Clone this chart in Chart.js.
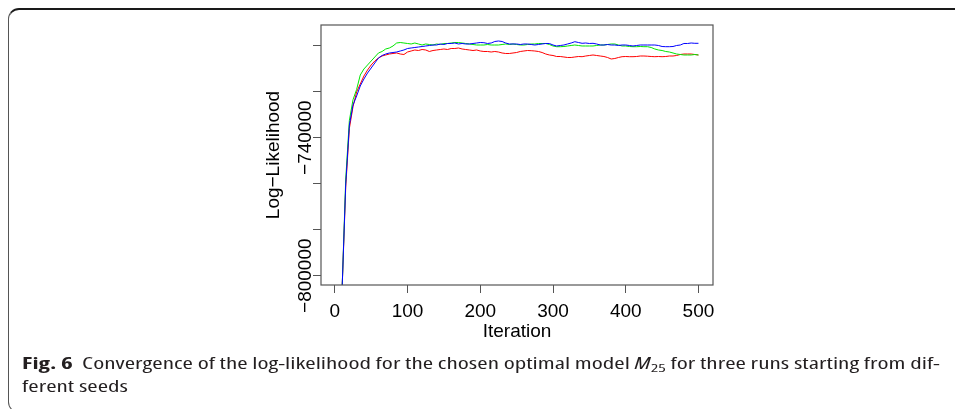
<!DOCTYPE html>
<html><head><meta charset="utf-8">
<script src="https://cdn.jsdelivr.net/npm/chart.js@4.4.1/dist/chart.umd.min.js"></script>
<style>
html,body{margin:0;padding:0;background:#fff;width:955px;height:409px;overflow:hidden;}
#frame{position:absolute;left:8px;top:8px;width:1000px;height:405px;border-top:2px solid #1a1a1a;border-left:1px solid #555;border-bottom:1px solid #555;border-radius:11px 0 0 11px;box-sizing:border-box;}
#c{position:absolute;left:0;top:0;}
#cap{position:absolute;left:22px;top:352px;font-family:"Open Sans","Lato",sans-serif;font-stretch:75%;font-size:15.5px;line-height:23px;color:#231f20;white-space:nowrap;transform-origin:0 0;}
#cap b{font-weight:700;}
#cap sub{font-size:11px;line-height:0;vertical-align:-3px;}
</style></head><body>
<div id="frame"></div>
<canvas id="c" width="955" height="409"></canvas>
<div id="cap"><span id="l1"><b>Fig. 6</b>&nbsp; Convergence of the log-likelihood for the chosen optimal model <i>M</i><sub>25</sub> for three runs starting from dif-</span><br><span>ferent seeds</span></div>
<script>
// ---- data ----
const iterations = [10,15,20,25,30,35,40,45,50,55,60,65,70,75,80,85,90,95,100,
105,110,115,120,125,130,135,140,145,150,155,160,165,170,175,180,185,190,195,200,
205,210,215,220,225,230,235,240,245,250,255,260,265,270,275,280,285,290,295,300,
305,310,315,320,325,330,335,340,345,350,355,360,365,370,375,380,385,390,395,400,
405,410,415,420,425,430,435,440,445,450,455,460,465,470,475,480,485,490,495,500];

const runBlue = [-806000,-760100,-734500,-725800,-721870,-717520,-714480,-711870,-709700,-707520,
-705350,-704260,-703610,-703170,-702960,-702740,-702300,-701870,-701220,
-701000,-700780,-700570,-700350,-700130,-699910,-699700,-699700,-699260,-699480,
-699040,-699040,-698830,-699260,-699040,-699260,-699260,-699040,-698830,-698610,
-698700,-699040,-698830,-698170,-697960,-698170,-698830,-699260,-699260,-699260,
-699480,-699260,-699260,-699480,-699700,-699480,-699260,-699040,-699040,-699700,
-700130,-699910,-699700,-699260,-698830,-698260,-698610,-698960,-698830,-699040,
-698960,-699260,-699700,-699700,-699480,-699700,-699700,-699910,-699700,-699700,
-699910,-700130,-699910,-699700,-699700,-699700,-699700,-699700,-699910,-700350,
-700430,-700430,-700350,-699910,-699700,-699040,-699040,-698830,-698960,-698960];

const runGreen = [-806000,-758000,-732500,-723500,-719000,-712740,-710130,-708390,-706650,-704910,
-703170,-702520,-701430,-701000,-700130,-698830,-698610,-698830,-699040,
-699260,-698830,-699260,-699700,-699260,-699480,-699700,-699260,-699480,-699040,
-699040,-698830,-698610,-698610,-698830,-699040,-699260,-699480,-699700,-699700,
-699700,-699480,-699700,-699700,-699700,-699480,-699260,-699480,-699260,-699480,
-699700,-699700,-699480,-699260,-699260,-699040,-699040,-699040,-699480,-700130,
-700430,-700430,-700350,-700130,-699910,-699700,-699910,-700130,-700130,-700130,
-700130,-699910,-699700,-699700,-699480,-699260,-699260,-699700,-700130,-700130,
-700350,-700430,-700430,-700350,-700430,-700430,-700780,-701430,-701870,-702090,
-702520,-702740,-703170,-703610,-703830,-704040,-704040,-704040,-703830,-704040];

const runRed = [-806000,-761500,-736000,-726500,-720130,-716650,-713170,-710570,-708390,-706650,
-705350,-704480,-704040,-703610,-703390,-703170,-703610,-703830,-702740,
-702300,-701870,-702090,-701650,-701870,-702520,-702090,-701870,-701650,-701430,
-701650,-701220,-701220,-701000,-701430,-701650,-701870,-702090,-701870,-702300,
-702520,-702520,-702740,-702520,-702740,-703170,-703390,-703390,-703170,-702960,
-702520,-702300,-702090,-702170,-702300,-702520,-702960,-703610,-704040,-704260,
-704700,-704700,-704910,-705130,-705130,-704910,-704700,-704780,-704480,-704260,
-704040,-704260,-704480,-704700,-705130,-705780,-705570,-705130,-704780,-704700,
-704780,-704780,-704700,-704480,-704480,-704570,-704700,-704780,-704700,-704780,
-704700,-704480,-704480,-704260,-703830,-703610,-703610,-703610,-703830,-704040];

const xTicks = [0,100,200,300,400,500];
const yTicks = [-800000,-780000,-760000,-740000,-720000,-700000];
const yTickLabels = ['\u2212800000','','','\u2212740000','',''];

const toPoints = arr => arr.map((v,i)=>({x:iterations[i], y:v}));
const FONT = '"Liberation Sans", Arial, Helvetica, sans-serif';

const rFrame = {
  id:'rFrame',
  afterDatasetsDraw(chart){
    const {ctx, chartArea:a, scales:{y}} = chart;
    ctx.save();
    ctx.strokeStyle='#555'; ctx.lineWidth=1.2;
    ctx.strokeRect(a.left, a.top, a.right-a.left, a.bottom-a.top);
    ctx.fillStyle='#000';
    ctx.font='19px '+FONT;
    ctx.textAlign='center'; ctx.textBaseline='alphabetic';
    yTicks.forEach((v,i)=>{
      const t = yTickLabels[i]; if(!t) return;
      const py = y.getPixelForValue(v);
      ctx.save(); ctx.translate(y.right-10.5, py); ctx.rotate(-Math.PI/2);
      ctx.fillText(t,0,0); ctx.restore();
    });
    ctx.restore();
  }
};

new Chart(document.getElementById('c'), {
  type:'line',
  data:{datasets:[
    {label:'run 3', data:toPoints(runBlue), borderColor:'#0000ff'},
    {label:'run 2', data:toPoints(runGreen), borderColor:'#00e600'},
    {label:'run 1', data:toPoints(runRed), borderColor:'#ff0000'}
  ]},
  options:{
    responsive:false, animation:false, devicePixelRatio:1,
    layout:{padding:{left:255,right:242,top:25,bottom:64}},
    plugins:{legend:{display:false}, tooltip:{enabled:false}},
    elements:{point:{radius:0}, line:{borderWidth:1, tension:0, fill:false}},
    scales:{
      x:{type:'linear', min:-19, max:520,
        afterBuildTicks:s=>{ s.ticks = xTicks.map(v=>({value:v})); },
        afterFit:s=>{ s.height = 60; },
        grid:{drawOnChartArea:false, drawTicks:true, tickLength:8, color:'#555', lineWidth:1},
        border:{display:false},
        ticks:{autoSkip:false, maxRotation:0, minRotation:0, padding:7, color:'#000', font:{family:FONT, size:19}},
        title:{display:true, text:'Iteration', color:'#000', font:{family:FONT, size:19}, padding:{top:0,bottom:1.8}}
      },
      y:{type:'linear', min:-804050, max:-691000,
        afterBuildTicks:s=>{ s.ticks = yTicks.map(v=>({value:v})); },
        afterFit:s=>{ s.width = 66; },
        grid:{drawOnChartArea:false, drawTicks:true, tickLength:8, color:'#555', lineWidth:1},
        border:{display:false},
        ticks:{display:false},
        title:{display:true, text:'Log\u2212Likelihood', color:'#000', font:{family:FONT, size:19}, padding:{top:7.2,bottom:0}}
      }
    }
  },
  plugins:[rFrame]
});

const l1 = document.getElementById('l1');
const w = l1.getBoundingClientRect().width;
document.getElementById('cap').style.transform = 'scaleX(' + (918 / w) + ')';
</script>
</body></html>
